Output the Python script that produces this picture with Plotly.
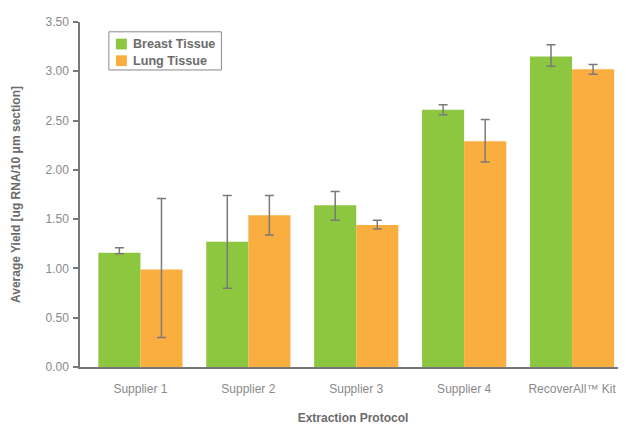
import plotly.graph_objects as go

categories = ["Supplier 1", "Supplier 2", "Supplier 3", "Supplier 4", "RecoverAll™ Kit"]
breast = [1.16, 1.27, 1.64, 2.61, 3.15]
breast_err_plus = [0.05, 0.47, 0.14, 0.05, 0.12]
breast_err_minus = [0.01, 0.47, 0.15, 0.05, 0.10]
lung = [0.99, 1.54, 1.44, 2.29, 3.02]
lung_err_plus = [0.72, 0.20, 0.05, 0.22, 0.05]
lung_err_minus = [0.69, 0.20, 0.04, 0.21, 0.05]
y_ticks = [0, 0.5, 1.0, 1.5, 2.0, 2.5, 3.0, 3.5]
series_names = ["Breast Tissue", "Lung Tissue"]
series_colors = ["#8DC63F", "#FBAE40"]

FONT = "Liberation Sans, Arial, sans-serif"
ERR_COLOR = "#7a7a7a"
TITLE_COLOR = "#6b6b6b"

fig = go.Figure()
fig.add_trace(go.Bar(
    name=series_names[0], x=categories, y=breast, marker_color=series_colors[0],
    marker_line_width=0,
    error_y=dict(type="data", symmetric=False, array=breast_err_plus,
                 arrayminus=breast_err_minus, color=ERR_COLOR, thickness=1.5, width=4.5),
))
fig.add_trace(go.Bar(
    name=series_names[1], x=categories, y=lung, marker_color=series_colors[1],
    marker_line_width=0,
    error_y=dict(type="data", symmetric=False, array=lung_err_plus,
                 arrayminus=lung_err_minus, color=ERR_COLOR, thickness=1.5, width=4.5),
))

# custom legend box (paper coordinates)
shapes = [dict(type="rect", xref="paper", yref="paper", x0=0.0529, x1=0.259,
               y0=0.861, y1=0.9716, line=dict(color="#888888", width=1),
               fillcolor="white", layer="above")]
annotations = []
sq_y = [(0.9205, 0.9517), (0.8722, 0.9034)]
for name, col, (ya, yb) in zip(series_names, series_colors, sq_y):
    shapes.append(dict(type="rect", xref="paper", yref="paper", x0=0.0657, x1=0.0858,
                       y0=ya, y1=yb, line=dict(width=0), fillcolor=col, layer="above"))
    annotations.append(dict(xref="paper", yref="paper", x=0.0925, y=(ya + yb) / 2,
                            xanchor="left", yanchor="middle", showarrow=False, text=name,
                            font=dict(family=FONT, size=12.6, color=TITLE_COLOR, weight="bold")))

fig.update_layout(
    width=626, height=426,
    margin=dict(l=70, r=8, t=7, b=67),
    paper_bgcolor="white", plot_bgcolor="white",
    barmode="group", bargap=0.22, bargroupgap=0,
    showlegend=False,
    shapes=shapes, annotations=annotations,
    font=dict(family=FONT, size=12, color="#888888"),
    xaxis=dict(
        range=[-0.56, 4.5], showline=True, linecolor="#777777", linewidth=1.5,
        ticks="", ticklabelstandoff=10, tickfont=dict(size=12, color="#8a8a8a"),
        title=dict(text="Extraction Protocol", standoff=18,
                   font=dict(size=12, color=TITLE_COLOR, weight="bold")),
    ),
    yaxis=dict(
        range=[0, 3.5], tickvals=y_ticks, tickformat=".2f",
        showline=True, linecolor="#777777", linewidth=1.5,
        ticks="outside", ticklen=5, tickcolor="#777777", tickwidth=1.5,
        ticklabelstandoff=2,
        showgrid=False, zeroline=False,
        tickfont=dict(size=12, color="#8a8a8a"),
        title=dict(text="Average Yield [ug RNA/10 μm section]", standoff=22,
                   font=dict(size=12, color=TITLE_COLOR, weight="bold")),
    ),
)

fig.write_html("out.html")
